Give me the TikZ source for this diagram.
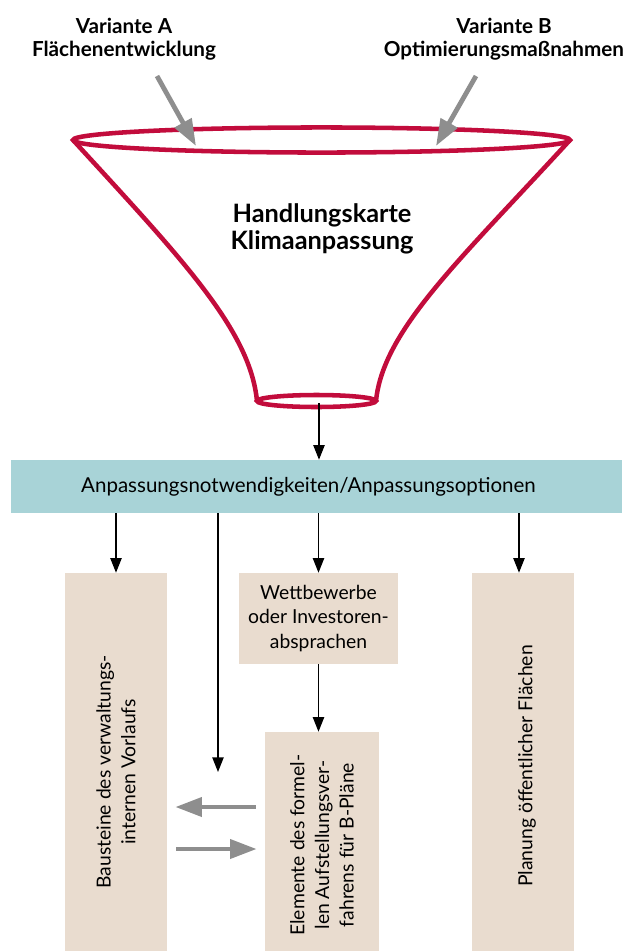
\documentclass[tikz,border=0pt]{standalone}
\usepackage{fontspec}
\setmainfont{Lato}
\usepackage{tikz}
\usetikzlibrary{arrows,arrows.meta,positioning,calc}
\definecolor{FunnelRed}{HTML}{C20C3C}
\definecolor{BarTeal}{HTML}{A8D3D7}
\definecolor{BoxBeige}{HTML}{E9DCCF}
\definecolor{FlowGray}{HTML}{8E8E8E}

\begin{document}
\begin{tikzpicture}[x=0.75pt, y=-0.75pt,
    redline/.style={FunnelRed, line width=3.4pt},
    blkarrow/.style={-{Triangle[length=11pt, width=8.5pt]}, line width=1pt},
    grayarrow/.style={-{Triangle[length=20pt, width=14pt]}, FlowGray, line width=3.6pt},
    beigebox/.style={fill=BoxBeige, inner sep=0pt},
    boxtxt/.style={font=\fontsize{14.5}{18.5}\selectfont, align=center, inner sep=0pt},
    headtxt/.style={font=\fontsize{15.5}{17.5}\selectfont\bfseries, align=center, inner sep=0pt}]
  \useasboundingbox (0,0) rectangle (627,951);
  % --- funnel: rim, sides, outlet
  \draw[redline] (321.5,140) ellipse [x radius=186.4pt, y radius=9.4pt];
  \draw[redline] (73,140) .. controls (183,260) and (250,330) .. (257,401);
  \draw[redline] (570,140) .. controls (460,260) and (383,330) .. (376,401);
  \draw[redline] (316.5,401) ellipse [x radius=44.6pt, y radius=4.5pt];
  \node[font=\fontsize{19}{20.5}\selectfont\bfseries, align=center, inner sep=0pt] (karte) at (322,229)
    {Handlungskarte\\Klimaanpassung};
  % --- the two variants feeding the funnel
  \node[headtxt] (varA) at (124,39) {Variante A\\Flächenentwicklung};
  \node[headtxt] (varB) at (504,39) {Variante B\\Optimierungsmaßnahmen};
  \coordinate (srcA) at (157,76);
  \coordinate (inA)  at (196,146);
  \coordinate (srcB) at (476,76);
  \coordinate (inB)  at (436,146);
  \draw[grayarrow] (srcA) -- (inA);
  \draw[grayarrow] (srcB) -- (inB);
  % --- bar
  \node[fill=BarTeal, minimum width=458.25pt, minimum height=39.75pt, inner sep=0pt,
        font=\fontsize{15.4}{17}\selectfont] (needs) at (316.5,486.5)
    {Anpassungsnotwendigkeiten/Anpassungsoptionen\hspace*{12pt}};
  \coordinate (outlet) at (319,403);
  \draw[blkarrow] (outlet) -- (outlet |- needs.north);
  % --- boxes (coloured areas, texts on top)
  \node[beigebox, minimum width=76.5pt,  minimum height=283.5pt]  (b1) at (116,762) {};
  \node[beigebox, boxtxt, minimum width=119.25pt, minimum height=68.25pt] (b2) at (318.5,618.5)
    {Wettbewerbe\\oder Investoren-\\absprachen};
  \node[beigebox, minimum width=85.5pt,  minimum height=164.25pt] (b3) at (322,841.5) {};
  \node[beigebox, minimum width=76.5pt,  minimum height=283.5pt]  (b4) at (523,762) {};
  \node[boxtxt, rotate=90] (t1) at (116,772) {Bausteine des verwaltungs-\\internen Vorlaufs};
  \node[boxtxt, rotate=90] (t3) at (322,845) {Elemente des formel-\\len Aufstellungsver-\\fahrens für B-Pläne};
  \node[boxtxt, rotate=90] (t4) at (527,766) {Planung öffentlicher Flächen};
  % --- arrows out of the bar
  \coordinate (lngend) at (218,772);
  \draw[blkarrow] (b1.north |- needs.south) -- (b1.north);
  \draw[blkarrow] (lngend |- needs.south) -- (lngend);
  \draw[blkarrow] (b2.north |- needs.south) -- (b2.north);
  \draw[blkarrow] ([xshift=-3pt]b4.north |- needs.south) -- ([xshift=-3pt]b4.north);
  \draw[blkarrow] (b2.south) -- (b2.south |- b3.north);
  % exchange between the two procedures
  \draw[grayarrow] ($(b3.west |- 0,807)+(-9,0)$) -- ($(b1.east |- 0,807)+(8,0)$);
  \draw[grayarrow] ($(b1.east |- 0,849)+(9,0)$) -- ($(b3.west |- 0,849)+(-8,0)$);
\end{tikzpicture}
\end{document}
